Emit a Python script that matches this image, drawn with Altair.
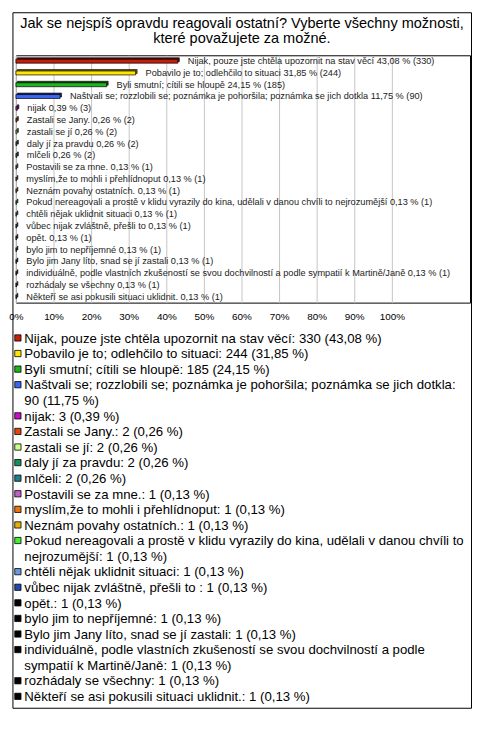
import unicodedata
import altair as alt
import pandas as pd

title_lines = ["Jak se nejspíš opravdu reagovali ostatní? Vyberte všechny možnosti,",
               "které považujete za možné."]

names = [
    "Nijak, pouze jste chtěla upozornit na stav věcí",
    "Pobavilo je to; odlehčilo to situaci",
    "Byli smutní; cítili se hloupě",
    "Naštvali se; rozzlobili se; poznámka je pohoršila; poznámka se jich dotkla",
    "nijak",
    "Zastali se Jany.",
    "zastali se jí",
    "daly jí za pravdu",
    "mlčeli",
    "Postavili se za mne.",
    "myslím,že to mohli i přehlídnoput",
    "Neznám povahy ostatních.",
    "Pokud nereagovali a prostě v klidu vyrazily do kina, udělali v danou chvíli to nejrozumější",
    "chtěli nějak uklidnit situaci",
    "vůbec nijak zvláštně, přešli to ",
    "opět.",
    "bylo jim to nepříjemné",
    "Bylo jim Jany líto, snad se jí zastali",
    "individuálně, podle vlastních zkušeností se svou dochvilností a podle sympatií k Martině/Janě",
    "rozhádaly se všechny",
    "Někteří se asi pokusili situaci uklidnit.",
]
counts = [330, 244, 185, 90, 3, 2, 2, 2, 2, 1, 1, 1, 1, 1, 1, 1, 1, 1, 1, 1, 1]
pcts = [43.08, 31.85, 24.15, 11.75, 0.39, 0.26, 0.26, 0.26, 0.26,
        0.13, 0.13, 0.13, 0.13, 0.13, 0.13, 0.13, 0.13, 0.13, 0.13, 0.13, 0.13]
colors = ["#c41f0c", "#ffe600", "#1fb51f", "#3a66f0", "#c60fc6", "#e0440f",
          "#ccff88", "#12935e", "#1f7d8c", "#c060c0", "#e8740f", "#e0b00c",
          "#44ee33", "#6a96dc", "#2446b0", "#000000", "#000000", "#000000",
          "#000000", "#000000", "#000000"]
x_ticks = [0, 10, 20, 30, 40, 50, 60, 70, 80, 90, 100]

FONT = "Liberation Sans, Arial, sans-serif"
LEG_FS = 13.33
LEG_LH = 15.75
LEG_LIMIT = 446

AW = {' ': 278, '!': 278, '%': 889, '(': 333, ')': 333, ',': 278, '.': 278, '/': 278,
      ':': 278, ';': 278, '?': 556, 'A': 667, 'B': 667, 'C': 722, 'D': 722, 'E': 667,
      'F': 611, 'G': 778, 'H': 722, 'I': 278, 'J': 500, 'K': 667, 'L': 556, 'M': 833,
      'N': 722, 'O': 778, 'P': 667, 'Q': 778, 'R': 722, 'S': 667, 'T': 611, 'U': 722,
      'V': 667, 'W': 944, 'X': 667, 'Y': 667, 'Z': 611, 'a': 556, 'b': 556, 'c': 500,
      'd': 556, 'e': 556, 'f': 278, 'g': 556, 'h': 556, 'i': 222, 'j': 222, 'k': 500,
      'l': 222, 'm': 833, 'n': 556, 'o': 556, 'p': 556, 'q': 556, 'r': 333, 's': 500,
      't': 278, 'u': 556, 'v': 500, 'w': 722, 'x': 500, 'y': 500, 'z': 500}


def text_w(s, fs):
    tot = 0
    for ch in s:
        base = unicodedata.normalize('NFD', ch)[0]
        tot += AW.get(base, 556)
    return tot * fs / 1000.0


def wrap(s, fs, limit):
    words = s.split(' ')
    lines, cur = [], None
    for w in words:
        cand = w if cur is None else cur + ' ' + w
        if cur is not None and text_w(cand, fs) > limit:
            lines.append(cur)
            cur = w
        else:
            cur = cand
    lines.append(cur)
    return lines


def cz(p):
    return f"{p:.2f}".replace(".", ",")


def darken(h, f=0.45):
    h = h.lstrip('#')
    r, g, b = (int(h[i:i + 2], 16) for i in (0, 2, 4))
    return "#%02x%02x%02x" % (int(r * f), int(g * f), int(b * f))


bar_df = pd.DataFrame({
    "name": names,
    "pct": pcts,
    "color": colors,
    "dark": [darken(c) for c in colors],
    "label": [f"{n} {cz(p)} % ({c})" for n, p, c in zip(names, pcts, counts)],
})

sq_rows, line_rows = [], []
row = 0
for n, p, c, col in zip(names, pcts, counts, colors):
    text = f"{n}: {c} ({cz(p)} %)"
    sq_rows.append({"row": row, "color": col})
    for ln in wrap(text, LEG_FS, LEG_LIMIT):
        line_rows.append({"row": row, "text": ln})
        row += 1
sq_df = pd.DataFrame(sq_rows)
line_df = pd.DataFrame(line_rows)

one = pd.DataFrame({"k": [0]})

W, H = 459, 250

frame = alt.Chart(one).mark_rect(fillOpacity=0, stroke="black", strokeWidth=1).encode(
    x=alt.value(-3), x2=alt.value(460.5), y=alt.value(-43), y2=alt.value(660))

t1 = alt.Chart(one).mark_text(text=title_lines[0], font=FONT, fontSize=14.67, align="center",
                              baseline="alphabetic", color="black").encode(
    x=alt.value(228.5), y=alt.value(-28))
t2 = alt.Chart(one).mark_text(text=title_lines[1], font=FONT, fontSize=14.67, align="center",
                              baseline="alphabetic", color="black").encode(
    x=alt.value(228.5), y=alt.value(-12.5))

xscale = alt.Scale(domain=[0, 120.8], nice=False, zero=True)
xaxis = alt.Axis(values=x_ticks, labelExpr="datum.value + '%'", grid=True, gridColor="#c4c4c4",
                 gridWidth=1, domain=False, ticks=False, labelFont=FONT, labelFontSize=10,
                 labelColor="black", labelPadding=9, title=None, labelFlush=False)
yband = alt.Y("name:N", sort=names, axis=None,
              scale=alt.Scale(paddingInner=0, paddingOuter=0))

depth = alt.Chart(bar_df).mark_bar(size=4, xOffset=1.5, yOffset=-1.5, stroke="black",
                                   strokeWidth=0.6).encode(
    x=alt.X("pct:Q", scale=xscale, axis=xaxis), y=yband,
    color=alt.Color("dark:N", scale=None))
front = alt.Chart(bar_df).mark_bar(size=4, stroke="black", strokeWidth=0.7).encode(
    x=alt.X("pct:Q", scale=xscale, axis=xaxis), y=yband,
    color=alt.Color("color:N", scale=None))
labels = alt.Chart(bar_df).mark_text(align="left", baseline="middle", dx=10, font=FONT,
                                     fontSize=9.3, color="#222222").encode(
    x=alt.X("pct:Q", scale=xscale, axis=xaxis), y=yband, text="label:N")

lscale = alt.Scale(domain=[0, H / LEG_LH], nice=False, zero=False, reverse=True)
squares = alt.Chart(sq_df).mark_square(size=40, stroke="black", strokeWidth=0.8, opacity=1,
                                       yOffset=285.7).encode(
    x=alt.value(2), y=alt.Y("row:Q", scale=lscale, axis=None),
    color=alt.Color("color:N", scale=None))
legtext = alt.Chart(line_df).mark_text(align="left", baseline="middle", font=FONT,
                                       fontSize=LEG_FS, color="black", yOffset=286.5).encode(
    x=alt.value(8.5), y=alt.Y("row:Q", scale=lscale, axis=None), text="text:N")

chart = alt.layer(frame, t1, t2, depth, front, labels, squares, legtext).resolve_scale(
    y="independent"
).properties(width=W, height=H, padding=0, background="white").configure_view(
    stroke="black", strokeWidth=1)

chart.save("out.html", embed_options={"renderer": "svg", "actions": False})
